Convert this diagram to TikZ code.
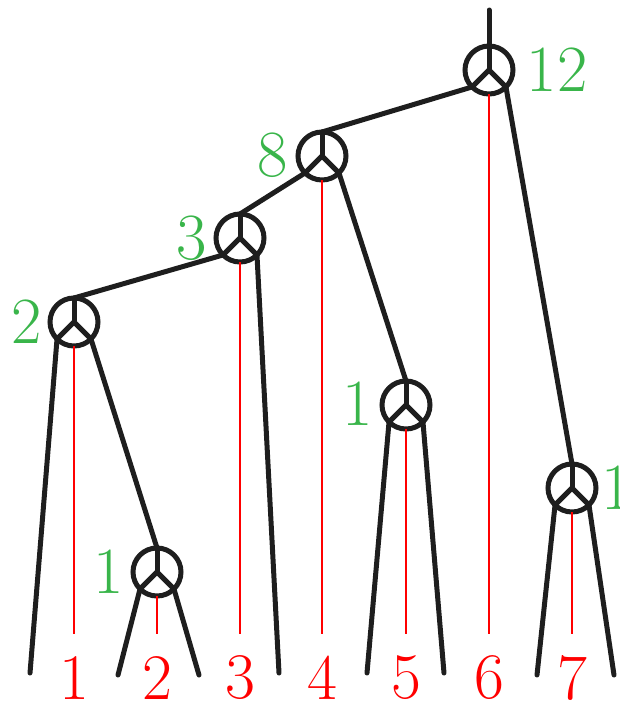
\documentclass[tikz,border=0pt]{standalone}
\usepackage{fontspec}
\definecolor{lgreen}{RGB}{57,181,74}
\definecolor{ink}{RGB}{30,30,30}
\begin{document}
\begin{tikzpicture}[x=1pt,y=1pt,
  vert/.style={circle,draw=ink,line width=5pt,minimum size=48pt,inner sep=0pt,outer sep=0pt},
  edge/.style={draw=ink,line width=5pt,line cap=round},
  leaf/.style={draw=red,line width=2pt},
  glab/.style={text=lgreen,font=\fontsize{66}{66}\selectfont,inner sep=0pt},
  rlab/.style={text=red,font=\fontsize{65}{65}\selectfont,inner sep=0pt}]
\useasboundingbox (0,0) rectangle (620,-702);
% vertices
\node[vert] (R) at (489,-70) {};
\node[vert] (N8) at (322,-156) {};
\node[vert] (N3) at (240,-238) {};
\node[vert] (N2) at (74,-322) {};
\node[vert] (A) at (406,-405) {};
\node[vert] (B) at (157,-572) {};
\node[vert] (C) at (572,-488) {};
\foreach \v in {R,N8,N3,N2,A,B,C}{
  \draw[edge] (\v.center) -- (\v.north);
  \draw[edge] (\v.center) -- (\v.south west);
  \draw[edge] (\v.center) -- (\v.south east);
}
% ground coordinates
\coordinate (top) at (489,-10);
\coordinate (g1) at (30,-673);
\coordinate (g2) at (118,-675);
\coordinate (g3) at (199,-675);
\coordinate (g4) at (279,-673);
\coordinate (g5) at (367,-673);
\coordinate (g6) at (444,-673);
\coordinate (g7) at (537,-675);
\coordinate (g8) at (614,-675);
% internal edges
\draw[edge] (top) -- (R.north);
\draw[edge] (R.south west) -- (N8.north);
\draw[edge] (R.south east) -- (C.north);
\draw[edge] (N8.south west) -- (N3.north);
\draw[edge] (N8.south east) -- (A.north);
\draw[edge] (N3.south west) -- (N2.north);
\draw[edge] (N3.south east) -- (g4);
\draw[edge] (N2.south west) -- (g1);
\draw[edge] (N2.south east) -- (B.north);
\draw[edge] (B.south west) -- (g2);
\draw[edge] (B.south east) -- (g3);
\draw[edge] (A.south west) -- (g5);
\draw[edge] (A.south east) -- (g6);
\draw[edge] (C.south west) -- (g7);
\draw[edge] (C.south east) -- (g8);
% red leaf lines
\coordinate (e1) at (74,-634);
\coordinate (e2) at (157,-634);
\coordinate (e3) at (240,-634);
\coordinate (e4) at (322,-634);
\coordinate (e5) at (406,-634);
\coordinate (e6) at (489,-634);
\coordinate (e7) at (572,-634);
\draw[leaf] (N2.south) -- (e1);
\draw[leaf] (B.south) -- (e2);
\draw[leaf] (N3.south) -- (e3);
\draw[leaf] (N8.south) -- (e4);
\draw[leaf] (A.south) -- (e5);
\draw[leaf] (R.south) -- (e6);
\draw[leaf] (C.south) -- (e7);
% red labels
\node[rlab] (l1) at (74,-678) {1};
\node[rlab] (l2) at (157,-678) {2};
\node[rlab] (l3) at (240,-678) {3};
\node[rlab] (l4) at (322,-678) {4};
\node[rlab] (l5) at (406,-678) {5};
\node[rlab] (l6) at (489,-678) {6};
\node[rlab] (l7) at (572,-678) {7};
% green labels
\node[glab] (w12) at (557,-70) {12};
\node[glab] (w8) at (273,-155) {8};
\node[glab] (w3) at (192,-238) {3};
\node[glab] (w2) at (27,-322) {2};
\node[glab] (wa) at (358,-404) {1};
\node[glab] (wb) at (109,-572) {1};
\node[glab,anchor=west] (wc) at (601,-488) {1};
\end{tikzpicture}
\end{document}
